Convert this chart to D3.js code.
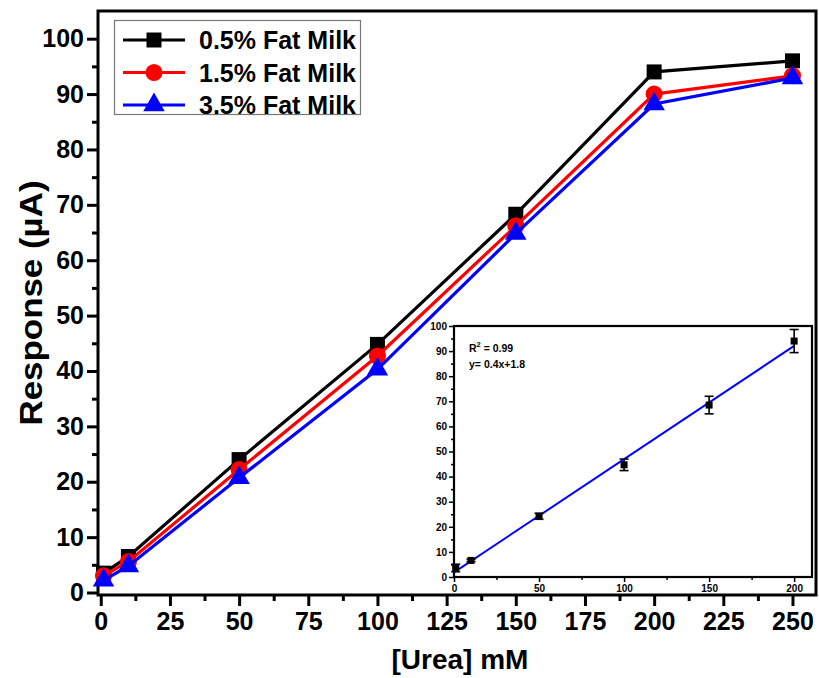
<!DOCTYPE html>
<html>
<head>
<meta charset="utf-8">
<style>
  body { margin: 0; background: #fff; }
  text { font-family: "Liberation Sans", Arial, sans-serif; font-weight: bold; }
</style>
</head>
<body>
<script src="https://cdn.jsdelivr.net/npm/d3@7"></script>
<script>
// main chart data
var urea = [1, 10, 50, 100, 150, 200, 250];
var milk05 = [3.5, 6.5, 24.0, 44.8, 68.3, 94.0, 96.0];
var milk15 = [3.0, 5.6, 22.2, 42.7, 66.2, 90.0, 93.3];
var milk35 = [2.2, 4.8, 20.7, 40.3, 64.8, 88.2, 92.9];
var seriesNames = ["0.5% Fat Milk", "1.5% Fat Milk", "3.5% Fat Milk"];
var xTicks = [0, 25, 50, 75, 100, 125, 150, 175, 200, 225, 250];
var yTicks = [0, 10, 20, 30, 40, 50, 60, 70, 80, 90, 100];

// inset calibration data
var insetX = [1, 10, 50, 100, 150, 200];
var insetY = [3.6, 6.6, 24.2, 44.7, 68.5, 94.0];
var insetErr = [1.5, 0.5, 1.2, 2.3, 3.5, 4.6];
var insetXTicks = [0, 50, 100, 150, 200];
var insetYTicks = [0, 10, 20, 30, 40, 50, 60, 70, 80, 90, 100];

var W = 819, H = 678;
var svg = d3.select("body").append("svg").attr("width", W).attr("height", H);

var pL = 98, pR = 816, pT = 11, pB = 595;
var x = d3.scaleLinear().domain([-1, 258.5]).range([pL, pR]);
var y = d3.scaleLinear().domain([-0.45, 105]).range([pB, pT]);

// minor ticks
var xMinor = d3.range(12.5, 250, 25);
var yMinor = d3.range(5, 105, 10);

svg.append("g").attr("transform", "translate(0," + pB + ")")
  .call(d3.axisBottom(x).tickValues(xMinor).tickSize(6).tickFormat(""))
  .call(function(g) { g.select(".domain").remove(); g.selectAll("line").attr("stroke-width", 3); });
svg.append("g").attr("transform", "translate(0," + pB + ")")
  .call(d3.axisBottom(x).tickValues(xTicks).tickSize(11).tickPadding(6))
  .call(function(g) {
    g.select(".domain").remove();
    g.selectAll("line").attr("stroke-width", 3);
    g.selectAll("text").attr("font-size", 25).attr("fill", "#000");
  });

svg.append("g").attr("transform", "translate(" + pL + ",0)")
  .call(d3.axisLeft(y).tickValues(yMinor).tickSize(6).tickFormat(""))
  .call(function(g) { g.select(".domain").remove(); g.selectAll("line").attr("stroke-width", 3); });
svg.append("g").attr("transform", "translate(" + pL + ",0)")
  .call(d3.axisLeft(y).tickValues(yTicks).tickSize(11).tickPadding(3))
  .call(function(g) {
    g.select(".domain").remove();
    g.selectAll("line").attr("stroke-width", 3);
    g.selectAll("text").attr("font-size", 25).attr("fill", "#000");
  });

svg.append("rect").attr("x", pL).attr("y", pT)
  .attr("width", pR - pL).attr("height", pB - pT)
  .attr("fill", "none").attr("stroke", "#000").attr("stroke-width", 3);

// axis titles
svg.append("text").attr("x", 460).attr("y", 669).attr("text-anchor", "middle")
  .attr("font-size", 28).text("[Urea] mM");
svg.append("text").attr("transform", "translate(42,303) rotate(-90)")
  .attr("text-anchor", "middle").attr("font-size", 31)
  .attr("textLength", 245).attr("lengthAdjust", "spacingAndGlyphs")
  .text("Response (\u00b5A)");

// inset
var iL = 454, iR = 812, iT = 326, iB = 577;
var ix = d3.scaleLinear().domain([0, 210.5]).range([iL, iR]);
var iy = d3.scaleLinear().domain([0, 100]).range([iB, iT]);

// series
var series = [
  { name: seriesNames[0], values: milk05, color: "#000000", shape: d3.symbolSquare, size: 225 },
  { name: seriesNames[1], values: milk15, color: "#ff0000", shape: d3.symbolCircle, size: 230 },
  { name: seriesNames[2], values: milk35, color: "#0000ff", shape: d3.symbolTriangle, size: 200 }
];

var line = d3.line().x(function(d) { return x(d[0]); }).y(function(d) { return y(d[1]); });

series.forEach(function(s) {
  var pts = urea.map(function(u, i) { return [u, s.values[i]]; });
  svg.append("path").datum(pts).attr("d", line)
    .attr("fill", "none").attr("stroke", s.color).attr("stroke-width", 3.2);
  svg.selectAll(null).data(pts).enter().append("path")
    .attr("transform", function(d) { return "translate(" + x(d[0]) + "," + y(d[1]) + ")"; })
    .attr("d", d3.symbol().type(s.shape).size(s.size))
    .attr("fill", s.color);
});

// legend
var lg = svg.append("g");
lg.append("rect").attr("x", 114.5).attr("y", 20.5).attr("width", 246).attr("height", 94)
  .attr("fill", "#fff").attr("stroke", "#777").attr("stroke-width", 1.2);
series.forEach(function(s, i) {
  var ly = 40 + i * 32.5;
  lg.append("line").attr("x1", 123).attr("x2", 185).attr("y1", ly).attr("y2", ly)
    .attr("stroke", s.color).attr("stroke-width", 3.2);
  lg.append("path").attr("transform", "translate(154," + ly + ")")
    .attr("d", d3.symbol().type(s.shape).size(s.size)).attr("fill", s.color);
  lg.append("text").attr("x", 199).attr("y", ly + 9).attr("font-size", 25).text(s.name);
});

var ig = svg.append("g");
ig.append("rect").attr("x", iL).attr("y", iT).attr("width", iR - iL).attr("height", iB - iT)
  .attr("fill", "#fff");

ig.append("g").attr("transform", "translate(0," + iB + ")")
  .call(d3.axisBottom(ix).tickValues(d3.range(25, 210, 50)).tickSize(3).tickFormat(""))
  .call(function(g) { g.select(".domain").remove(); g.selectAll("line").attr("stroke-width", 1.5); });
ig.append("g").attr("transform", "translate(0," + iB + ")")
  .call(d3.axisBottom(ix).tickValues(insetXTicks).tickSize(5).tickPadding(3))
  .call(function(g) {
    g.select(".domain").remove();
    g.selectAll("line").attr("stroke-width", 1.5);
    g.selectAll("text").attr("font-size", 10).attr("fill", "#000");
  });
ig.append("g").attr("transform", "translate(" + iL + ",0)")
  .call(d3.axisLeft(iy).tickValues(d3.range(5, 100, 10)).tickSize(3).tickFormat(""))
  .call(function(g) { g.select(".domain").remove(); g.selectAll("line").attr("stroke-width", 1.5); });
ig.append("g").attr("transform", "translate(" + iL + ",0)")
  .call(d3.axisLeft(iy).tickValues(insetYTicks).tickSize(5).tickPadding(2))
  .call(function(g) {
    g.select(".domain").remove();
    g.selectAll("line").attr("stroke-width", 1.5);
    g.selectAll("text").attr("font-size", 10).attr("fill", "#000");
  });
ig.append("rect").attr("x", iL).attr("y", iT).attr("width", iR - iL).attr("height", iB - iT)
  .attr("fill", "none").attr("stroke", "#000").attr("stroke-width", 2.2);

// least-squares fit line
var mx = d3.mean(insetX), my = d3.mean(insetY);
var sxy = d3.sum(insetX, function(v, i) { return (v - mx) * (insetY[i] - my); });
var sxx = d3.sum(insetX, function(v) { return (v - mx) * (v - mx); });
var slope = sxy / sxx, icpt = my - slope * mx;
ig.append("line")
  .attr("x1", ix(0)).attr("y1", iy(icpt))
  .attr("x2", ix(200)).attr("y2", iy(icpt + slope * 200))
  .attr("stroke", "#0000ff").attr("stroke-width", 2);

// error bars + points
insetX.forEach(function(v, i) {
  var cx = ix(v), y1 = iy(insetY[i] + insetErr[i]), y2 = iy(insetY[i] - insetErr[i]);
  ig.append("line").attr("x1", cx).attr("x2", cx).attr("y1", y1).attr("y2", y2)
    .attr("stroke", "#000").attr("stroke-width", 1.6);
  [y1, y2].forEach(function(yy) {
    ig.append("line").attr("x1", cx - 4.5).attr("x2", cx + 4.5).attr("y1", yy).attr("y2", yy)
      .attr("stroke", "#000").attr("stroke-width", 1.6);
  });
  ig.append("rect").attr("x", cx - 3.5).attr("y", iy(insetY[i]) - 3.5)
    .attr("width", 7).attr("height", 7).attr("fill", "#000");
});

var t1 = ig.append("text").attr("x", 469).attr("y", 352).attr("font-size", 10.5);
t1.append("tspan").text("R");
t1.append("tspan").attr("dy", -5).attr("font-size", 7.5).text("2");
t1.append("tspan").attr("dy", 5).text(" = 0.99");
ig.append("text").attr("x", 469).attr("y", 368).attr("font-size", 10.5).text("y= 0.4x+1.8");
</script>
</body>
</html>
